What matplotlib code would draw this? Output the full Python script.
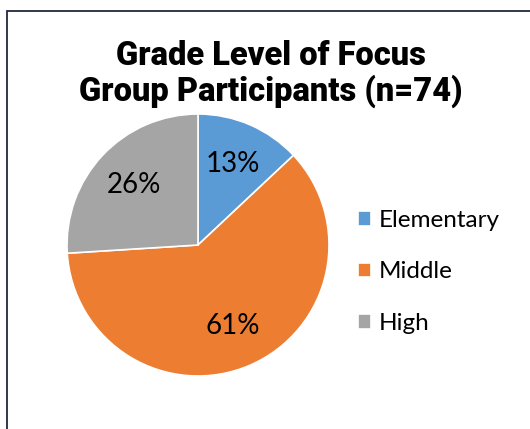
import matplotlib.pyplot as plt
from matplotlib.patches import Rectangle

# Data
categories = ["Elementary", "Middle", "High"]
percents = [13, 61, 26]
colors = ["#5B9BD5", "#ED7D31", "#A5A5A5"]

W, H = 530, 429
fig = plt.figure(figsize=(W / 100, H / 100), dpi=100)
fig.patch.set_facecolor("white")

# chart border (runs off right/bottom edges)
fig.patches.append(Rectangle((7 / W, -0.1), 1.2, 1 - 11 / H + 0.1, transform=fig.transFigure,
                             fill=False, edgecolor="#1F2A3C", linewidth=1.3))

# Title
fig.text(271 / W, 1 - 74 / H, "Grade Level of Focus\nGroup Participants (n=74)",
         ha="center", va="center", fontsize=23.5, fontweight=900, family="Roboto",
         linespacing=1.08, color="black")

# Pie
r = 131
cx, cy = 198, 245
ax = fig.add_axes([(cx - r) / W, 1 - (cy + r) / H, 2 * r / W, 2 * r / H])
wedges, texts, autotexts = ax.pie(
    percents, colors=colors, startangle=90, counterclock=False,
    autopct=lambda p: f"{p:.0f}%", pctdistance=0.67,
    wedgeprops=dict(edgecolor="white", linewidth=1.2),
    textprops=dict(fontsize=20, family="Lato", color="black"))
ax.set_aspect("equal")
ax.set_xlim(-1, 1)
ax.set_ylim(-1, 1)

# Legend
fig.legend(wedges, categories, loc="center left", bbox_to_anchor=(336 / W, 1 - 272 / H),
           frameon=False, prop=dict(family="Lato", size=17.5), handlelength=0.55,
           handleheight=0.55, handletextpad=0.3, labelspacing=1.25)

fig.savefig("out.png", dpi=100)
